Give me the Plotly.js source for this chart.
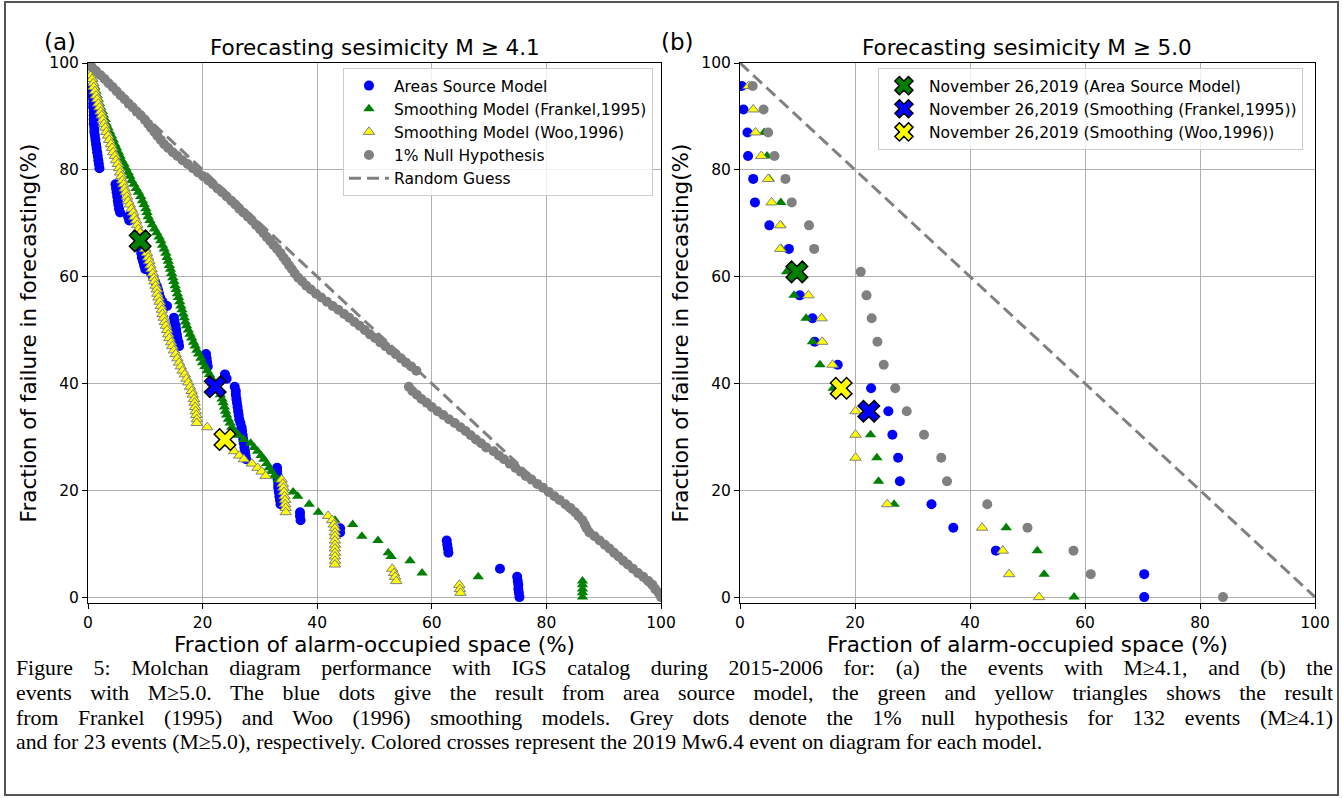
<!DOCTYPE html>
<html><head><meta charset="utf-8">
<script src="https://cdn.plot.ly/plotly-3.0.1.min.js"></script>
<style>
body{margin:0;background:#fff;}
#wrap{position:relative;width:1343px;height:798px;overflow:hidden;background:#fff;}
#chart{position:absolute;left:0;top:0;width:1343px;height:798px;}
#frame{position:absolute;left:4px;top:1px;width:1335px;height:795px;border:2px solid #555;box-sizing:border-box;pointer-events:none;}
#caption{position:absolute;left:16px;top:656px;width:1317px;font-family:"Liberation Serif","Times New Roman",serif;font-size:21.8px;line-height:24.8px;color:#000;}
#caption .j{text-align:justify;text-align-last:justify;}
</style></head>
<body>
<div id="wrap">
<div id="chart"></div>
<div id="caption">
<div class="j">Figure 5: Molchan diagram performance with IGS catalog during 2015-2006 for: (a) the events with M≥4.1, and (b) the</div>
<div class="j">events with M≥5.0. The blue dots give the result from area source model, the green and yellow triangles shows the result</div>
<div class="j">from Frankel (1995) and Woo (1996) smoothing models. Grey dots denote the 1% null hypothesis for 132 events (M≥4.1)</div>
<div>and for 23 events (M≥5.0), respectively. Colored crosses represent the 2019 Mw6.4 event on diagram for each model.</div>
</div>
<div id="frame"></div>
</div>
<script>
// ---------- Panel (a): M >= 4.1 (132 events) ----------
const areaA_x = [0.7,0.8,0.8,0.9,0.9,0.9,1.0,1.0,1.0,1.0,1.1,1.1,1.2,1.3,1.4,1.5,1.6,1.7,1.8,1.9,2.0,
  4.8,4.9,5.0,5.1,5.2,5.3,5.4,5.6, 7.0,7.2,
  8.9,9.0,9.1,9.2,9.3,9.4,9.6,9.8,10.0,
  11.0,11.4,11.7,12.0,12.2,12.4,12.6,13.0,13.8,
  15.0,15.1,15.3,15.4,15.5,15.6,15.8,15.9,
  20.6,20.7,20.8,20.9, 23.9,24.2,
  25.6,25.8,25.8,25.9,26.0,26.1,26.2,26.3,26.4,26.6,26.8,26.9,27.0,27.1,27.2,27.3,27.4,27.5,27.6,
  33.0,33.0,33.1,33.1,33.2,33.2,33.3,33.4,33.5,33.6,
  37.0,37.0,37.1, 44.0,44.0, 62.6,62.7,62.8,62.9, 71.9,
  74.9,75.0,75.1,75.1,75.2,75.3];
const areaA_y = [95.5,94.7,93.9,93.2,92.4,91.7,90.9,90.2,89.4,88.6,87.9,87.1,86.4,85.6,84.8,84.1,83.3,82.6,81.8,81.1,80.3,
  77.3,76.5,75.8,75.0,74.2,73.5,72.7,72.0, 71.2,70.5,
  67.4,66.7,65.9,65.2,64.4,63.6,62.9,62.1,61.4,
  60.6,59.8,59.1,58.3,57.6,56.8,56.1,55.3,54.5,
  52.3,51.5,50.8,50.0,49.2,48.5,47.7,47.0,
  45.5,44.7,43.9,43.2, 41.7,40.9,
  39.4,38.6,37.9,37.1,36.4,35.6,34.8,34.1,33.3,32.6,31.8,31.1,30.3,29.5,28.8,28.0,27.3,26.5,25.8,
  24.2,23.5,22.7,22.0,21.2,20.5,19.7,18.9,18.2,17.4,
  15.9,15.2,14.4, 12.9,12.1, 10.6,9.8,9.1,8.3, 5.3,
  3.8,3.0,2.3,1.5,0.8,0.0];

const frankA_x = [0.0,0.2,0.4,0.6,0.8,1.0,1.2,1.4,1.6,1.8,2.0,2.2,2.5,2.7,3.0,3.2,3.5,3.8,4.1,4.4,4.7,5.0,5.3,5.6,5.9,6.3,6.6,
  7.0,7.3,7.6,8.0,8.4,8.8,9.2,9.5,9.8,10.1,10.3,10.5,10.8,11.2,11.6,12.0,12.4,12.7,13.0,13.3,
  13.6,13.8,14.0,14.2,14.4,14.6,14.8,15.0,15.2,15.4,15.6,15.8,16.0,16.2,16.4,16.6,16.8,17.0,17.2,17.5,
  17.8,18.1,18.4,18.7,19.0,19.3,19.7,20.0,20.4,20.8,21.2,21.6,22.0,22.4,22.8,23.1,23.4,23.6,23.8,24.0,
  24.2,24.5,24.8,25.1,25.6,26.3,27.2,28.4,29.0,29.6,30.2,30.7,31.2,31.6,32.0,32.5,33.2,33.9,
  35.8,36.6,38.6,40.2,43.1,46.2,47.8,50.6,52.4,52.9,56.2,58.3,68.1,86.3,86.3,86.3,86.3,86.3];
const frankA_y = [100.0,99.2,98.5,97.7,97.0,96.2,95.5,94.7,93.9,93.2,92.4,91.7,90.9,90.2,89.4,88.6,87.9,87.1,86.4,85.6,84.8,84.1,83.3,82.6,81.8,81.1,80.3,
  79.5,78.8,78.0,77.3,76.5,75.8,75.0,74.2,73.5,72.7,72.0,71.2,70.5,69.7,68.9,68.2,67.4,66.7,65.9,65.2,
  64.4,63.6,62.9,62.1,61.4,60.6,59.8,59.1,58.3,57.6,56.8,56.1,55.3,54.5,53.8,53.0,52.3,51.5,50.8,50.0,
  49.2,48.5,47.7,47.0,46.2,45.5,44.7,43.9,43.2,42.4,41.7,40.9,40.2,39.4,38.6,37.9,37.1,36.4,35.6,34.8,
  34.1,33.3,32.6,31.8,31.1,30.3,29.5,28.8,28.0,27.3,26.5,25.8,25.0,24.2,23.5,22.7,22.0,21.2,
  19.7,18.9,17.4,15.9,14.4,13.6,11.4,10.6,8.3,7.6,6.8,4.5,3.8,3.0,2.3,1.5,0.8,0.0];

const wooA_x = [0.0,0.2,0.3,0.5,0.7,0.9,1.0,1.2,1.4,1.6,1.8,2.0,2.2,2.4,2.6,2.8,3.0,3.2,3.5,3.7,
  4.0,4.2,4.4,4.7,4.9,5.2,5.4,5.6,5.8,6.0,6.2,6.4,6.6,6.8,7.0,7.3,7.6,7.9,8.1,8.4,
  8.6,8.8,9.1,9.3,9.6,9.8,10.0,10.3,10.5,10.7,10.9,11.1,11.3,11.5,11.6,11.8,12.0,12.1,12.3,12.5,
  12.7,12.9,13.0,13.2,13.4,13.6,13.8,14.0,14.2,14.5,14.7,15.0,15.3,15.6,15.9,16.2,16.5,16.9,17.2,17.5,
  17.8,18.1,18.3,18.5,18.6,18.7,18.8,18.9,19.0,19.0,
  20.8,23.6,24.2,25.5,26.4,27.2,28.6,29.6,30.3,31.0,
  33.8,34.0,34.1,34.2,34.3,34.4,34.4,34.5,34.5,41.9,42.6,42.9,
  43.1,43.1,43.1,43.1,43.1,43.1,43.1,43.1,43.1,43.1,53.1,53.4,53.6,53.8,64.8,64.9,65.0];
const wooA_y = [100.0,99.2,98.5,97.7,97.0,96.2,95.5,94.7,93.9,93.2,92.4,91.7,90.9,90.2,89.4,88.6,87.9,87.1,86.4,85.6,
  84.8,84.1,83.3,82.6,81.8,81.1,80.3,79.5,78.8,78.0,77.3,76.5,75.8,75.0,74.2,73.5,72.7,72.0,71.2,70.5,
  69.7,68.9,68.2,67.4,66.7,65.9,65.2,64.4,63.6,62.9,62.1,61.4,60.6,59.8,59.1,58.3,57.6,56.8,56.1,55.3,
  54.5,53.8,53.0,52.3,51.5,50.8,50.0,49.2,48.5,47.7,47.0,46.2,45.5,44.7,43.9,43.2,42.4,41.7,40.9,40.2,
  39.4,38.6,37.9,37.1,36.4,35.6,34.8,34.1,33.3,32.6,
  31.8,29.5,28.8,27.3,26.5,25.8,25.0,24.2,23.5,22.7,
  22.0,21.2,20.5,19.7,18.9,18.2,17.4,16.7,15.9,15.2,14.4,13.6,
  12.9,12.1,11.4,10.6,9.8,9.1,8.3,7.6,6.8,6.1,5.3,4.5,3.8,3.0,2.3,1.5,0.8];

const nullA_x = [0.7,1.4,2.2,2.9,3.6,4.3,5.0,5.7,6.4,7.1,7.8,8.5,9.2,9.9,10.5,11.0,11.6,12.1,12.7,
  13.3,14.0,14.8,15.6,16.5,17.4,18.3,19.2,20.1,21.0,21.8,22.6,23.4,24.2,25.0,25.7,26.4,27.1,27.9,28.6,
  29.3,30.0,30.6,31.2,31.8,32.4,33.0,33.6,34.1,34.6,35.1,35.6,36.1,36.7,37.4,38.1,38.9,39.8,40.7,41.7,
  42.7,43.7,44.7,45.6,46.5,47.4,48.3,49.2,50.1,51.0,51.9,52.8,53.7,54.6,55.5,56.4,57.3,
  56.0,56.6,57.4,58.2,59.1,60.0,61.0,62.0,63.0,64.0,65.0,65.9,66.8,67.7,68.6,69.5,70.8,71.7,72.6,73.6,
  74.6,75.5,76.4,77.4,78.4,79.4,80.4,81.4,82.3,83.3,84.2,85.0,85.6,86.3,86.7,87.0,87.5,88.4,89.3,90.2,
  91.0,91.8,92.6,93.4,94.2,95.1,96.0,96.9,97.8,98.5,99.0,99.6,100.0];
const nullA_y = [99.2,98.5,97.7,97.0,96.2,95.5,94.7,93.9,93.2,92.4,91.7,90.9,90.2,89.4,88.6,87.9,87.1,86.4,85.6,
  84.8,84.1,83.3,82.6,81.8,81.1,80.3,79.5,78.8,78.0,77.3,76.5,75.8,75.0,74.2,73.5,72.7,72.0,71.2,70.5,
  69.7,68.9,68.2,67.4,66.7,65.9,65.2,64.4,63.6,62.9,62.1,61.4,60.6,59.8,59.1,58.3,57.6,56.8,56.1,55.3,
  54.5,53.8,53.0,52.3,51.5,50.8,50.0,49.2,48.5,47.7,47.0,46.2,45.5,44.7,43.9,43.2,42.4,
  39.4,38.6,37.9,37.1,36.4,35.6,34.8,34.1,33.3,32.6,31.8,31.1,30.3,29.5,28.8,28.0,27.3,26.5,25.8,25.0,
  24.2,23.5,22.7,22.0,21.2,20.5,19.7,18.9,18.2,17.4,16.7,15.9,15.2,14.4,13.6,12.9,12.1,11.4,10.6,9.8,
  9.1,8.3,7.6,6.8,6.1,5.3,4.5,3.8,3.0,2.3,1.5,0.8,0.0];

// 2019 Mw6.4 event (Nov 26, 2019) on each model, panel (a)
const eventA_x = [9.1, 22.2, 23.9];   // area source, Frankel, Woo
const eventA_y = [66.7, 39.4, 29.5];

// ---------- Panel (b): M >= 5.0 (23 events) ----------
const failB   = [95.7,91.3,87.0,82.6,78.3,73.9,69.6,65.2,60.9,56.5,52.2,47.8,43.5,39.1,34.8,30.4,26.1,21.7,17.4,13.0,8.7,4.3,0.0];
const areaB_x = [0.3,0.6,1.3,1.4,2.3,2.6,5.1,8.5,9.9,10.4,12.6,13.0,17.0,22.8,25.8,26.5,27.5,27.8,33.3,37.1,44.5,70.3,70.3];
const frankB_x= [2.0,2.3,4.2,4.7,5.1,7.1,7.1,7.2,8.1,9.4,11.5,12.6,13.9,16.2,22.0,22.7,23.8,24.1,26.8,46.3,51.7,52.9,58.1];
const wooB_y  = [95.7,91.3,87.0,82.6,78.3,73.9,69.6,65.2,60.9,56.5,52.2,47.8,43.5,39.1,34.8,30.4,26.1,17.4,13.0,8.7,4.3,0.0];
const wooB_x  = [1.5,2.3,2.7,3.7,4.9,5.5,7.0,7.0,10.2,11.9,14.2,14.3,16.1,17.6,20.1,20.1,20.1,25.6,42.1,45.7,46.8,52.0];
const nullB_x = [2.2,4.1,4.9,6.0,7.9,9.0,12.0,12.9,21.0,22.0,22.9,23.9,25.0,27.0,29.0,32.0,35.0,36.0,43.0,50.0,58.0,61.0,84.0];
const eventB_x = [9.9, 22.4, 17.6];
const eventB_y = [60.9, 34.8, 39.1];

// random guess diagonal
const randomX = [0, 100];
const randomY = [100, 0];

const tickVals = [0, 20, 40, 60, 80, 100];
const seriesNames = ['Areas Source Model', 'Smoothing Model (Frankel,1995)', 'Smoothing Model (Woo,1996)', '1% Null Hypothesis', 'Random Guess'];
const eventNames = ['November 26,2019 (Area Source Model)', 'November 26,2019 (Smoothing (Frankel,1995))', 'November 26,2019 (Smoothing (Woo,1996))'];
const eventColors = ['#008000', '#0000ff', '#ffff00'];

const mBlue = {symbol:'circle', size:10, color:'#0000ff'};
const mGreen = {symbol:'triangle-up', size:10, color:'#008000'};
const mYellow = {symbol:'triangle-up', size:10, color:'#ffff00', line:{color:'#808080', width:1}};
const mGrey = {symbol:'circle', size:10, color:'#808080'};
const dashLine = {color:'#808080', width:3, dash:'12px,6px'};

function pts(x, y, name, marker, xa, ya, show) {
  return {type:'scatter', mode:'markers', x:x, y:y, name:name, marker:marker, xaxis:xa, yaxis:ya, showlegend:show, hoverinfo:'x+y'};
}
const traces = [];
traces.push(pts(areaA_x, areaA_y, seriesNames[0], mBlue, 'x', 'y', true));
traces.push(pts(frankA_x, frankA_y, seriesNames[1], mGreen, 'x', 'y', true));
traces.push(pts(wooA_x, wooA_y, seriesNames[2], mYellow, 'x', 'y', true));
traces.push(pts(nullA_x, nullA_y, seriesNames[3], mGrey, 'x', 'y', true));
traces.push({type:'scatter', mode:'lines', x:randomX, y:randomY, name:seriesNames[4], line:dashLine, xaxis:'x', yaxis:'y', showlegend:true});
for (let i = 0; i < 3; i++) {
  traces.push({type:'scatter', mode:'markers', x:[eventA_x[i]], y:[eventA_y[i]], name:eventNames[i],
    marker:{symbol:'x', size:19, color:eventColors[i], line:{color:'#000', width:1.5}}, xaxis:'x', yaxis:'y', showlegend:false});
}
traces.push(pts(areaB_x, failB, seriesNames[0], mBlue, 'x2', 'y2', false));
traces.push(pts(frankB_x, failB, seriesNames[1], mGreen, 'x2', 'y2', false));
traces.push(pts(wooB_x, wooB_y, seriesNames[2], mYellow, 'x2', 'y2', false));
traces.push(pts(nullB_x, failB, seriesNames[3], mGrey, 'x2', 'y2', false));
traces.push({type:'scatter', mode:'lines', x:randomX, y:randomY, name:seriesNames[4], line:dashLine, xaxis:'x2', yaxis:'y2', showlegend:false});
for (let i = 0; i < 3; i++) {
  traces.push({type:'scatter', mode:'markers', x:[eventB_x[i]], y:[eventB_y[i]], name:eventNames[i],
    marker:{symbol:'x', size:19, color:eventColors[i], line:{color:'#000', width:1.5}}, xaxis:'x2', yaxis:'y2', showlegend:true, legend:'legend2'});
}

const FONT = 'DejaVu Sans, Verdana, sans-serif';
function axis(extra) {
  return Object.assign({
    showgrid:true, gridcolor:'#b0b0b0', gridwidth:1, zeroline:false,
    showline:true, linecolor:'#000', linewidth:1, mirror:true,
    ticks:'outside', ticklen:5, tickwidth:1, tickcolor:'#000',
    tickvals:tickVals, tickfont:{family:FONT, size:15.5, color:'#000'}
  }, extra);
}
const xTitle = 'Fraction of alarm-occupied space (%)';
const yTitle = 'Fraction of failure in forecasting(%)';
const layout = {
  width:1343, height:798,
  margin:{l:88, r:28, t:63, b:195},
  paper_bgcolor:'#fff', plot_bgcolor:'#fff',
  font:{family:FONT, color:'#000'},
  xaxis: axis({domain:[0, 0.46699], range:[0, 100], anchor:'y', title:{text:xTitle, font:{size:21.5}, standoff:0}}),
  yaxis: axis({domain:[0, 1], range:[-1.1, 100], anchor:'x', title:{text:yTitle, font:{size:21.5}, standoff:6}}),
  xaxis2: axis({domain:[0.53138, 1], range:[0, 100], anchor:'y2', title:{text:xTitle, font:{size:21.5}, standoff:0}}),
  yaxis2: axis({domain:[0, 1], range:[-1.1, 100], anchor:'x2', title:{text:yTitle, font:{size:21.5}, standoff:6}}),
  legend:{x:0.2078, y:0.9907, xanchor:'left', yanchor:'top', bgcolor:'rgba(255,255,255,0.8)', bordercolor:'#cccccc', borderwidth:1,
    font:{family:FONT, size:15.5, color:'#000'}, itemwidth:40, traceorder:'normal'},
  legend2:{x:0.6438, y:0.9907, xanchor:'left', yanchor:'top', bgcolor:'rgba(255,255,255,0.8)', bordercolor:'#cccccc', borderwidth:1,
    font:{family:FONT, size:15.5, color:'#000'}, itemwidth:40, traceorder:'normal'},
  annotations:[
    {text:'Forecasting sesimicity M ≥ 4.1', xref:'paper', yref:'paper', x:0.2339, y:1.0296, xanchor:'center', yanchor:'middle', showarrow:false, font:{family:FONT, size:21.5}},
    {text:'Forecasting sesimicity M ≥ 5.0', xref:'paper', yref:'paper', x:0.7653, y:1.0296, xanchor:'center', yanchor:'middle', showarrow:false, font:{family:FONT, size:21.5}},
    {text:'(a)', xref:'paper', yref:'paper', x:-0.0228, y:1.039, xanchor:'center', yanchor:'middle', showarrow:false, font:{family:FONT, size:23}},
    {text:'(b)', xref:'paper', yref:'paper', x:0.4808, y:1.039, xanchor:'center', yanchor:'middle', showarrow:false, font:{family:FONT, size:23}}
  ]
};
Plotly.newPlot('chart', traces, layout, {displayModeBar:false, responsive:false});
</script>
</body></html>
